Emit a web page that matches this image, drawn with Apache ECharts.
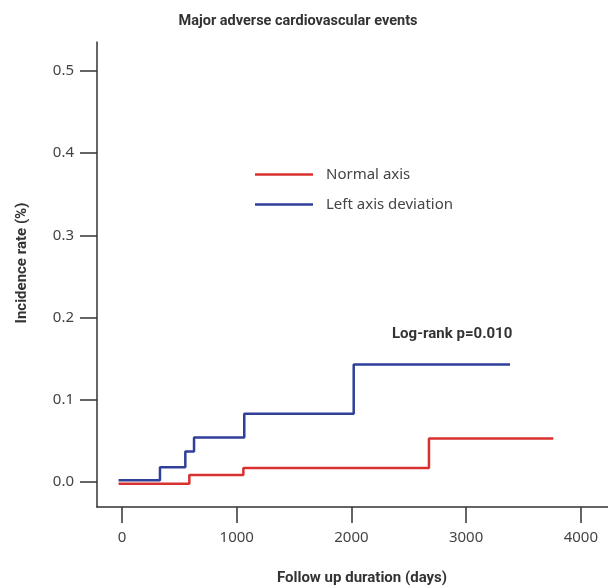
<!DOCTYPE html>
<html lang="en">
<head>
    <meta charset="UTF-8">
    <title>Major adverse cardiovascular events</title>
    <script src="https://cdn.jsdelivr.net/npm/echarts@6/dist/echarts.min.js"></script>
    <style>
        html, body { margin: 0; padding: 0; background: #fff; }
        #chart { width: 608px; height: 588px; }
    </style>
</head>
<body>
    <div id="chart"></div>
    <script>
        // step points: [day, incidence]
        var normalDays = [-30, 587, 587, 1058, 1058, 2676, 2676, 3760]
        var normalRate = [-0.002, -0.002, 0.0085, 0.0085, 0.017, 0.017, 0.053, 0.053]
        var leftDays = [-30, 331, 331, 552, 552, 628, 628, 1066, 1066, 2020, 2020, 3383]
        var leftRate = [0.002, 0.002, 0.018, 0.018, 0.037, 0.037, 0.054, 0.054, 0.083, 0.083, 0.143, 0.143]
        var xTicks = [0, 1000, 2000, 3000, 4000]
        var yTicks = [0, 0.1, 0.2, 0.3, 0.4, 0.5]

        function pairs(xs, ys) {
            return xs.map(function (x, i) { return [x, ys[i]] })
        }

        var font = 'Noto Sans'
        var boldFont = 'bold 15px Roboto'
        var mCharts = echarts.init(document.getElementById('chart'))
        var option = {
            animation: false,
            graphic: [
                {
                    type: 'text', x: 298, y: 21,
                    style: { text: 'Major adverse cardiovascular events', font: 'bold 14.5px Roboto', fill: '#333', align: 'center', verticalAlign: 'middle' }
                },
                {
                    type: 'text', left: 392, top: 327,
                    style: { text: 'Log-rank p=0.010', font: boldFont, fill: '#333' }
                },
                {
                    type: 'text', x: 362, y: 578,
                    style: { text: 'Follow up duration (days)', font: boldFont, fill: '#333', align: 'center', verticalAlign: 'middle' }
                },
                {
                    type: 'text', x: 22, y: 263, rotation: Math.PI / 2,
                    style: { text: 'Incidence rate (%)', font: boldFont, fill: '#333', align: 'center', verticalAlign: 'middle' }
                }
            ],
            legend: {
                orient: 'vertical',
                left: 250,
                top: 162,
                icon: 'rect',
                itemWidth: 58,
                itemHeight: 2.5,
                itemGap: 15,
                textStyle: { fontFamily: font, fontSize: 15, color: '#444', padding: [0, 0, 0, 8] },
                data: ['Normal axis', 'Left axis deviation']
            },
            grid: { left: 97, right: 0, top: 42, bottom: 81, containLabel: false },
            xAxis: {
                type: 'value',
                min: -218,
                max: 4237,
                splitLine: { show: false },
                axisLine: { show: true, onZero: false, lineStyle: { color: '#333', width: 1.5 } },
                axisTick: { show: true, length: 16, customValues: xTicks, lineStyle: { color: '#333', width: 1.5 } },
                axisLabel: {
                    customValues: xTicks, margin: 23, fontFamily: font, fontSize: 15, color: '#444',
                    formatter: function (v) { return String(v) }
                }
            },
            yAxis: {
                type: 'value',
                min: -0.0304,
                max: 0.535,
                splitLine: { show: false },
                axisLine: { show: true, onZero: false, lineStyle: { color: '#333', width: 1.5 } },
                axisTick: { show: true, length: 17, customValues: yTicks, lineStyle: { color: '#333', width: 1.5 } },
                axisLabel: {
                    customValues: yTicks, margin: 23, fontFamily: font, fontSize: 15, color: '#444',
                    formatter: function (v) { return v.toFixed(1) }
                }
            },
            series: [
                {
                    name: 'Normal axis',
                    type: 'line',
                    symbol: 'none',
                    color: '#d93030',
                    lineStyle: { width: 2.5, color: '#d93030' },
                    data: pairs(normalDays, normalRate)
                },
                {
                    name: 'Left axis deviation',
                    type: 'line',
                    symbol: 'none',
                    color: '#2f3f9a',
                    lineStyle: { width: 2.5, color: '#2f3f9a' },
                    data: pairs(leftDays, leftRate)
                }
            ]
        }
        mCharts.setOption(option)
    </script>
</body>
</html>
